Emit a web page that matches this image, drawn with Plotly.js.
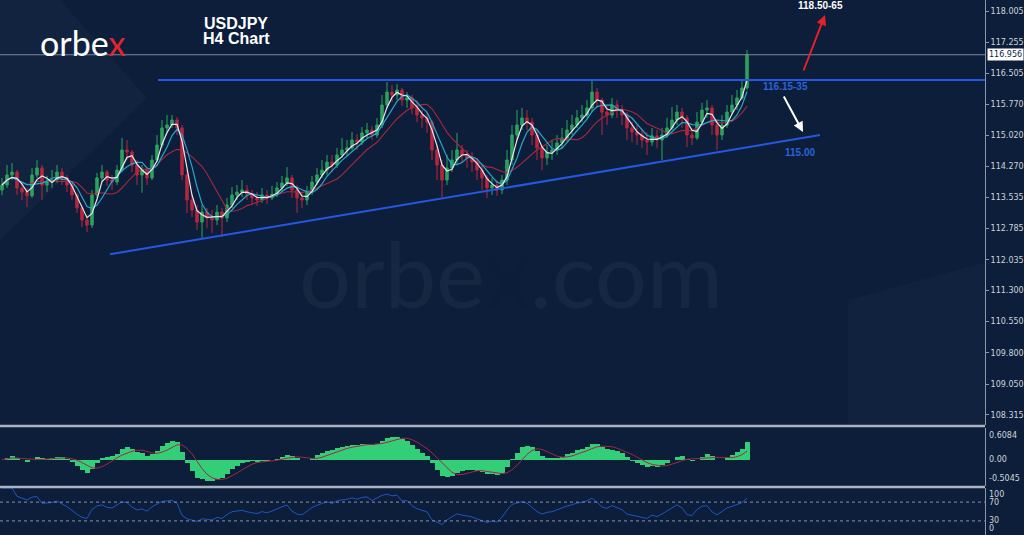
<!DOCTYPE html>
<html>
<head>
<meta charset="utf-8">
<script src="https://cdn.plot.ly/plotly-3.0.1.min.js"></script>
<style>
  html, body { margin: 0; padding: 0; background: #0c1e3a; }
  #chart { width: 1024px; height: 535px; }
</style>
</head>
<body>
<div id="chart"></div>
<script>
// ---------------- DATA (USDJPY H4) ----------------
const firstOpen = 113.71;
const closes = [113.83,114.07,114.14,113.76,113.66,113.57,114.07,114.24,113.83,113.90,
113.95,114.14,114.00,113.83,113.59,113.28,112.99,112.87,113.59,114.00,
114.14,113.95,113.90,114.19,114.67,114.62,114.31,114.07,114.19,114.00,
114.43,114.79,115.20,115.27,115.39,115.20,114.07,113.47,113.23,112.94,
113.18,113.04,112.99,113.18,113.04,113.35,113.59,113.66,113.71,113.61,
113.52,113.47,113.59,113.52,113.61,113.76,113.88,114.00,113.71,113.52,
113.47,113.66,113.90,114.07,114.19,114.38,114.31,114.55,114.67,114.72,
114.91,114.86,115.08,115.15,115.03,115.27,115.75,116.06,115.99,116.11,
115.87,115.92,115.68,115.51,115.44,115.34,114.67,114.31,113.95,114.24,
114.43,114.67,114.55,114.48,114.38,114.19,114.00,113.76,113.83,113.71,
113.95,114.43,115.03,115.27,115.44,115.34,115.03,114.72,114.48,114.62,
114.67,114.84,114.96,115.15,115.27,115.44,115.51,115.68,116.06,115.87,
115.58,115.51,115.75,115.63,115.51,115.20,115.10,115.03,114.91,114.86,
115.01,114.91,115.03,115.20,115.39,115.58,115.44,115.03,114.96,115.34,
115.63,115.68,115.27,115.03,115.27,115.58,115.75,115.92,116.16,116.956];
const highs = [114.00,114.31,114.36,114.19,113.88,113.76,114.24,114.43,114.31,114.05,
114.19,114.31,114.24,114.07,113.90,113.64,113.35,113.11,113.71,114.12,
114.31,114.19,114.07,114.31,114.96,114.91,114.67,114.43,114.31,114.24,
114.55,115.03,115.39,115.51,115.51,115.46,115.27,114.19,113.59,113.35,
113.35,113.28,113.23,113.35,113.28,113.52,113.78,113.83,113.95,113.83,
113.71,113.66,113.76,113.71,113.81,113.90,114.05,114.26,114.07,113.83,
113.66,113.81,114.05,114.24,114.43,114.55,114.55,114.72,114.96,114.91,
115.10,115.05,115.22,115.32,115.25,115.44,115.99,116.30,116.23,116.25,
116.16,116.06,115.99,115.87,115.63,115.58,115.39,114.79,114.43,114.55,
114.67,115.08,114.79,114.67,114.62,114.48,114.31,114.07,114.00,113.95,
114.07,114.67,115.27,115.63,115.68,115.63,115.44,115.15,114.79,114.79,
114.91,115.03,115.20,115.39,115.51,115.63,115.75,115.87,116.35,116.16,
115.92,115.75,115.92,115.87,115.75,115.58,115.34,115.27,115.15,115.10,
115.20,115.15,115.20,115.44,115.70,115.75,115.68,115.51,115.20,115.58,
115.80,115.87,115.75,115.39,115.51,115.75,115.99,116.11,116.35,117.07];
const lows = [113.59,113.76,113.95,113.59,113.47,113.30,113.52,114.00,113.47,113.66,
113.76,113.88,113.83,113.66,113.47,113.16,112.82,112.70,112.80,113.52,
113.90,113.81,113.71,113.83,114.14,114.43,114.14,113.83,113.64,113.83,
113.95,114.38,114.72,115.10,115.20,115.03,113.95,113.16,113.06,112.75,
112.56,112.80,112.68,112.87,112.58,112.94,113.28,113.47,113.54,113.47,
113.35,113.33,113.40,113.37,113.47,113.54,113.66,113.81,113.52,113.16,
113.28,113.35,113.59,113.83,114.00,114.07,114.14,114.24,114.48,114.53,
114.67,114.67,114.79,114.96,114.91,114.96,115.20,115.68,115.82,115.87,
115.73,115.68,115.53,115.34,115.20,115.08,114.43,113.95,113.54,113.83,
114.14,114.31,114.38,114.24,114.14,113.95,113.71,113.52,113.59,113.57,
113.61,113.83,114.31,114.91,115.15,115.15,114.79,114.43,114.19,114.31,
114.43,114.55,114.72,114.86,115.03,115.20,115.34,115.44,115.58,115.68,
115.03,115.27,115.44,115.44,115.27,114.91,114.86,114.79,114.72,114.55,
114.77,114.72,114.43,114.96,115.15,115.27,115.20,114.74,114.79,114.91,
115.25,115.44,115.03,114.67,114.91,115.20,115.51,115.63,115.87,116.11];

// analyst trend lines (bar index, price)
const resistanceX = [31.2, 196.6];
const resistanceY = [116.35, 116.35];
const supportX = [21.6, 163.6];
const supportY = [112.17, 115.03];

// axis tick labels
const priceTicks = [118.005,117.255,116.505,115.770,115.020,114.270,113.535,112.785,112.035,111.300,110.550,109.800,109.050,108.315];
const priceTickText = ["118.005","117.255","116.505","115.770","115.020","114.270","113.535","112.785","112.035","111.300","110.550","109.800","109.050","108.315"];
const macdLabels = ["0.6084","0.00","-0.5045"];
const macdMax = 0.6084, macdMin = -0.5045;
const rsiLevels = [70, 30];

// ---------------- derived (indicators from the price data) ----------------
const N = closes.length;
const idx = closes.map((_, i) => i);
const opens = [firstOpen].concat(closes.slice(0, N - 1));

function sma(a, n) {
  return a.map((_, i) => {
    const s = Math.max(0, i - n + 1);
    let t = 0;
    for (let k = s; k <= i; k++) t += a[k];
    return t / (i - s + 1);
  });
}
function ema(a, n) {
  const k = 2 / (n + 1);
  const out = [a[0]];
  for (let i = 1; i < a.length; i++) out.push(a[i] * k + out[i - 1] * (1 - k));
  return out;
}
const maFast = sma(closes, 3);
const maMid = sma(closes, 5);
const maSlow = sma(closes, 10);
const e1 = ema(closes, 6), e2 = ema(closes, 13);
const macd = e1.map((v, i) => v - e2[i]);
const signal = sma(macd, 5);

function rsi(a, n) {
  const out = [50];
  let ag = 0, al = 0;
  for (let i = 1; i < a.length; i++) {
    const d = a[i] - a[i - 1];
    const g = Math.max(d, 0), l = Math.max(-d, 0);
    if (i === 1) { ag = g; al = l; } else { ag = (ag * (n - 1) + g) / n; al = (al * (n - 1) + l) / n; }
    out.push(al === 0 ? 100 : 100 - 100 / (1 + ag / al));
  }
  out[0] = out[1];
  return out;
}
const rsiVals = rsi(closes, 9);

// ---------------- traces ----------------
const BG = '#0c1e3a';
const traces = [
  { type: 'candlestick', x: idx, open: opens, high: highs, low: lows, close: closes,
    xaxis: 'x', yaxis: 'y', whiskerwidth: 0,
    increasing: { line: { color: '#2ea35e', width: 1 }, fillcolor: '#2ea35e' },
    decreasing: { line: { color: '#b8263f', width: 1 }, fillcolor: '#b8263f' },
    hoverinfo: 'skip' },
  { type: 'scatter', mode: 'lines', x: idx, y: maSlow, line: { color: '#a8283c', width: 1.1 }, hoverinfo: 'skip' },
  { type: 'scatter', mode: 'lines', x: idx, y: maMid, line: { color: '#27a6cc', width: 1.2 }, hoverinfo: 'skip' },
  { type: 'scatter', mode: 'lines', x: idx, y: maFast, line: { color: '#e6e8ec', width: 1.2 }, hoverinfo: 'skip' },
  { type: 'scatter', mode: 'lines', x: resistanceX, y: resistanceY, line: { color: '#2458e0', width: 2 }, hoverinfo: 'skip' },
  { type: 'scatter', mode: 'lines', x: supportX, y: supportY, line: { color: '#2458e0', width: 2 }, hoverinfo: 'skip' },
  { type: 'bar', x: idx, y: macd, yaxis: 'y2', marker: { color: '#33cf78', line: { width: 0 } }, hoverinfo: 'skip' },
  { type: 'scatter', mode: 'lines', x: idx, y: signal, yaxis: 'y2', line: { color: '#a3283e', width: 1 }, hoverinfo: 'skip' },
  { type: 'scatter', mode: 'lines', x: idx, y: rsiVals, yaxis: 'y3', line: { color: '#2352c4', width: 1 }, hoverinfo: 'skip' }
];

const axisCommon = {
  side: 'right', anchor: 'x', showgrid: false, zeroline: false,
  showline: true, linecolor: '#8e97a9', linewidth: 1,
  ticks: 'outside', ticklen: 3, tickcolor: '#8e97a9',
  tickfont: { family: 'DejaVu Sans', size: 8, color: '#cfd4dc' }, fixedrange: true
};

const lbl = { family: 'DejaVu Sans', size: 8, color: '#cfd4dc' };
const annotations = [
  // branding / title
  { xref: 'paper', yref: 'paper', x: 38 / 985, y: 1 - 43 / 535, xanchor: 'left', yanchor: 'middle', showarrow: false,
    text: 'orbe<span style="color:#e3262e">x</span>', font: { family: 'Lato', size: 34, color: '#ffffff' } },
  { xref: 'paper', yref: 'paper', x: 236 / 985, y: 1 - 24 / 535, xanchor: 'center', yanchor: 'middle', showarrow: false, text: '<b>USDJPY</b>',
    font: { family: 'Liberation Sans', size: 16, color: '#ffffff' } },
  { xref: 'paper', yref: 'paper', x: 236 / 985, y: 1 - 39 / 535, xanchor: 'center', yanchor: 'middle', showarrow: false, text: '<b>H4 Chart</b>',
    font: { family: 'Liberation Sans', size: 16, color: '#ffffff' } },
  { xref: 'paper', yref: 'paper', x: 511 / 985, y: 1 - 272 / 535, xanchor: 'center', yanchor: 'middle', showarrow: false,
    text: 'orbe<span style="color:rgba(170,40,70,0.16)">x</span>.com',
    font: { family: 'Lato', size: 92, color: 'rgba(255,255,255,0.045)' } },
  // target labels
  { xref: 'paper', yref: 'paper', x: 820 / 985, y: 1 - 5 / 535, xanchor: 'center', yanchor: 'middle', showarrow: false, text: '<b>118.50-65</b>',
    font: { family: 'Liberation Sans', size: 10, color: '#ffffff' } },
  { xref: 'paper', yref: 'paper', x: 785 / 985, y: 1 - 86 / 535, xanchor: 'center', yanchor: 'middle', showarrow: false, text: '<b>116.15-35</b>',
    font: { family: 'Liberation Sans', size: 10, color: '#2b63d9' } },
  { xref: 'paper', yref: 'paper', x: 800 / 985, y: 1 - 152 / 535, xanchor: 'center', yanchor: 'middle', showarrow: false, text: '<b>115.00</b>',
    font: { family: 'Liberation Sans', size: 10, color: '#2b63d9' } },
  // arrows
  { xref: 'paper', yref: 'paper', x: 825 / 985, y: 1 - 15 / 535, ax: -22, ay: 57, text: '', showarrow: true,
    arrowhead: 2, arrowsize: 1, arrowwidth: 2, arrowcolor: '#e3212b' },
  { xref: 'paper', yref: 'paper', x: 803 / 985, y: 1 - 132 / 535, ax: -20, ay: -37, text: '', showarrow: true,
    arrowhead: 2, arrowsize: 1, arrowwidth: 2, arrowcolor: '#ffffff' },
  // current price box
  { xref: 'paper', yref: 'y', x: 1, y: closes[N - 1], xanchor: 'left', xshift: 2, showarrow: false,
    text: closes[N - 1].toFixed(3), bgcolor: '#ffffff', borderpad: 1,
    font: { family: 'DejaVu Sans', size: 8, color: '#0c1e3a' } },
  // indicator window labels
  { xref: 'paper', yref: 'y2 domain', x: 1, y: 1, xanchor: 'left', yanchor: 'top', xshift: 2, yshift: -1, showarrow: false, text: macdLabels[0], font: lbl },
  { xref: 'paper', yref: 'y2', x: 1, y: 0, xanchor: 'left', yanchor: 'middle', xshift: 2, showarrow: false, text: macdLabels[1], font: lbl },
  { xref: 'paper', yref: 'y2 domain', x: 1, y: 0, xanchor: 'left', yanchor: 'bottom', xshift: 2, yshift: 1, showarrow: false, text: macdLabels[2], font: lbl },
  { xref: 'paper', yref: 'y3 domain', x: 1, y: 1, xanchor: 'left', yanchor: 'top', xshift: 2, showarrow: false, text: '100', font: lbl },
  { xref: 'paper', yref: 'y3', x: 1, y: rsiLevels[0], xanchor: 'left', yanchor: 'middle', xshift: 2, showarrow: false, text: String(rsiLevels[0]), font: lbl },
  { xref: 'paper', yref: 'y3', x: 1, y: rsiLevels[1], xanchor: 'left', yanchor: 'middle', xshift: 2, showarrow: false, text: String(rsiLevels[1]), font: lbl },
  { xref: 'paper', yref: 'y3 domain', x: 1, y: 0, xanchor: 'left', yanchor: 'bottom', xshift: 2, showarrow: false, text: '0', font: lbl }
];

const shapes = [
  // faint background decorations
  { type: 'path', xref: 'paper', yref: 'paper', layer: 'below', line: { width: 0 }, fillcolor: 'rgba(255,255,255,0.022)',
    path: 'M 0 1 L 0.061 1 L 0.149 0.817 L 0 0.551 Z' },
  { type: 'path', xref: 'paper', yref: 'paper', layer: 'below', line: { width: 0 }, fillcolor: 'rgba(255,255,255,0.018)',
    path: 'M 0.861 0.206 L 0.861 0.439 L 1 0.51 L 1 0.206 Z' },
  // current price line
  { type: 'line', xref: 'paper', x0: 0, x1: 1, yref: 'y', y0: closes[N - 1], y1: closes[N - 1], line: { color: '#7d879a', width: 1 } },
  // rsi levels
  { type: 'line', xref: 'paper', x0: 0, x1: 1, yref: 'y3', y0: rsiLevels[0], y1: rsiLevels[0], line: { color: '#8a93a6', width: 1, dash: 'dot' } },
  { type: 'line', xref: 'paper', x0: 0, x1: 1, yref: 'y3', y0: rsiLevels[1], y1: rsiLevels[1], line: { color: '#8a93a6', width: 1, dash: 'dot' } },
  // window separators
  { type: 'line', xref: 'paper', x0: 0, x1: 1, yref: 'paper', y0: 1 - 426 / 535, y1: 1 - 426 / 535, line: { color: '#aab2c1', width: 2.5 } },
  { type: 'line', xref: 'paper', x0: 0, x1: 1, yref: 'paper', y0: 1 - 487 / 535, y1: 1 - 487 / 535, line: { color: '#aab2c1', width: 2.5 } }
];

const layout = {
  width: 1024, height: 535,
  margin: { l: 0, r: 39, t: 0, b: 0, pad: 0 },
  paper_bgcolor: BG, plot_bgcolor: BG,
  showlegend: false, bargap: 0,
  xaxis: { range: [-0.4, 196.6], visible: false, showgrid: false, zeroline: false, rangeslider: { visible: false }, fixedrange: true },
  yaxis: Object.assign({}, axisCommon, { domain: [1 - 425 / 535, 1], range: [108.07, 118.27], tickvals: priceTicks, ticktext: priceTickText }),
  yaxis2: Object.assign({}, axisCommon, { domain: [1 - 486 / 535, 1 - 428 / 535], range: [macdMin, macdMax], showticklabels: false, ticks: '' }),
  yaxis3: Object.assign({}, axisCommon, { domain: [0, 1 - 488 / 535], range: [0, 100], showticklabels: false, ticks: '' }),
  annotations: annotations,
  shapes: shapes
};

Plotly.newPlot('chart', traces, layout, { staticPlot: true, displayModeBar: false });
</script>
</body>
</html>
